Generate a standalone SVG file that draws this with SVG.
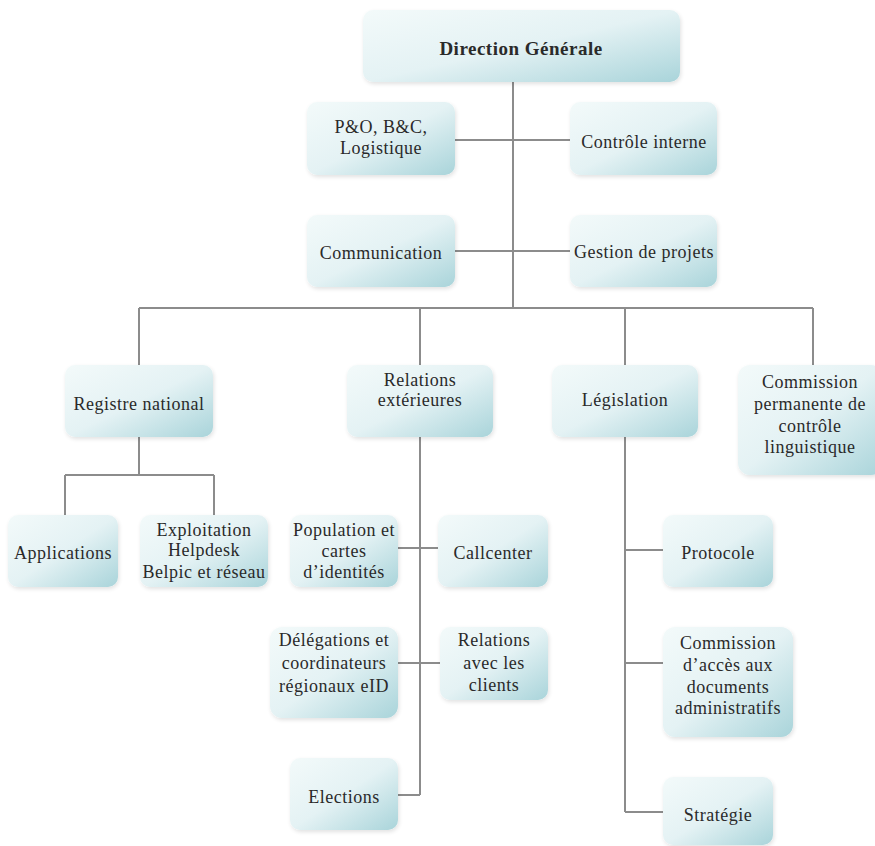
<svg xmlns="http://www.w3.org/2000/svg" width="875" height="846" viewBox="0 0 875 846">
<defs>
<linearGradient id="g" x1="0" y1="0" x2="1" y2="1">
<stop offset="0" stop-color="#f3fafa"/>
<stop offset="0.5" stop-color="#e4f2f4"/>
<stop offset="1" stop-color="#a9d4da"/>
</linearGradient>
<filter id="sh" x="-10%" y="-10%" width="125%" height="130%">
<feGaussianBlur in="SourceAlpha" stdDeviation="2"/>
<feOffset dx="1" dy="2"/>
<feComponentTransfer><feFuncA type="linear" slope="0.12"/></feComponentTransfer>
<feMerge><feMergeNode/><feMergeNode in="SourceGraphic"/></feMerge>
</filter>
</defs>
<style>
.b{fill:url(#g);filter:url(#sh)}
.t{font-size:18px;letter-spacing:0.5px;fill:#2a2a2a;text-anchor:middle;dominant-baseline:central}
.bold{font-weight:bold;font-size:19px}
.c{fill:none;stroke:#8c8c8c;stroke-width:2}
</style>
<rect width="875" height="846" fill="#ffffff"/>
<g id="connectors" class="c">
<path d="M513 82V308"/>
<path d="M455 140H570"/>
<path d="M455 251H570"/>
<path d="M139 308H813"/>
<path d="M139 308V365M420 308V365M625 308V365M813 308V365"/>
<path d="M139 437V475M65 475H214M65 475V515M214 475V515"/>
<path d="M420 437V795M398 548H438M398 663H440M398 795H420"/>
<path d="M625 437V812M625 550H663M625 663H663M625 812H663"/>
</g>
<g font-family="'Liberation Serif', 'DejaVu Serif', serif">
<g id="direction"><rect class="b" x="363" y="10" width="317" height="72" rx="10"/><text class="t bold" x="521" y="48">Direction Générale</text></g>
<g id="po"><rect class="b" x="307" y="102" width="148" height="73" rx="10"/><text class="t" x="381" y="127">P&amp;O, B&amp;C,</text><text class="t" x="381" y="148">Logistique</text></g>
<g id="controle"><rect class="b" x="570" y="102" width="147" height="73" rx="10"/><text class="t" x="644" y="142">Contrôle interne</text></g>
<g id="communication"><rect class="b" x="307" y="215" width="148" height="72" rx="10"/><text class="t" x="381" y="253">Communication</text></g>
<g id="gestion"><rect class="b" x="570" y="215" width="147" height="72" rx="10"/><text class="t" x="644" y="252">Gestion de projets</text></g>
<g id="registre"><rect class="b" x="65" y="365" width="148" height="72" rx="10"/><text class="t" x="139" y="404">Registre national</text></g>
<g id="relations"><rect class="b" x="347" y="365" width="146" height="72" rx="10"/><text class="t" x="420" y="380">Relations</text><text class="t" x="420" y="400">extérieures</text></g>
<g id="legislation"><rect class="b" x="552" y="365" width="146" height="72" rx="10"/><text class="t" x="625" y="400">Législation</text></g>
<g id="commission-perm"><rect class="b" x="738" y="365" width="145" height="110" rx="12"/><text class="t" x="810" y="382">Commission</text><text class="t" x="810" y="404">permanente de</text><text class="t" x="810" y="426">contrôle</text><text class="t" x="810" y="447">linguistique</text></g>
<g id="applications"><rect class="b" x="8" y="515" width="110" height="72" rx="10"/><text class="t" x="63" y="553">Applications</text></g>
<g id="exploitation"><rect class="b" x="140" y="515" width="128" height="72" rx="10"/><text class="t" x="204" y="530">Exploitation</text><text class="t" x="204" y="550">Helpdesk</text><text class="t" x="204" y="572">Belpic et réseau</text></g>
<g id="population"><rect class="b" x="290" y="515" width="108" height="72" rx="10"/><text class="t" x="344" y="530">Population et</text><text class="t" x="344" y="551">cartes</text><text class="t" x="344" y="572">d’identités</text></g>
<g id="callcenter"><rect class="b" x="438" y="515" width="110" height="72" rx="10"/><text class="t" x="493" y="553">Callcenter</text></g>
<g id="protocole"><rect class="b" x="663" y="515" width="110" height="72" rx="10"/><text class="t" x="718" y="553">Protocole</text></g>
<g id="delegations"><rect class="b" x="270" y="627" width="128" height="91" rx="12"/><text class="t" x="334" y="640">Délégations et</text><text class="t" x="334" y="663">coordinateurs</text><text class="t" x="334" y="686">régionaux eID</text></g>
<g id="relations-clients"><rect class="b" x="440" y="627" width="108" height="73" rx="10"/><text class="t" x="494" y="640">Relations</text><text class="t" x="494" y="663">avec les</text><text class="t" x="494" y="685">clients</text></g>
<g id="commission-acces"><rect class="b" x="663" y="627" width="130" height="110" rx="12"/><text class="t" x="728" y="643">Commission</text><text class="t" x="728" y="665">d’accès aux</text><text class="t" x="728" y="687">documents</text><text class="t" x="728" y="708">administratifs</text></g>
<g id="elections"><rect class="b" x="290" y="758" width="108" height="72" rx="10"/><text class="t" x="344" y="797">Elections</text></g>
<g id="strategie"><rect class="b" x="663" y="777" width="110" height="68" rx="10"/><text class="t" x="718" y="815">Stratégie</text></g>
</g>
</svg>
